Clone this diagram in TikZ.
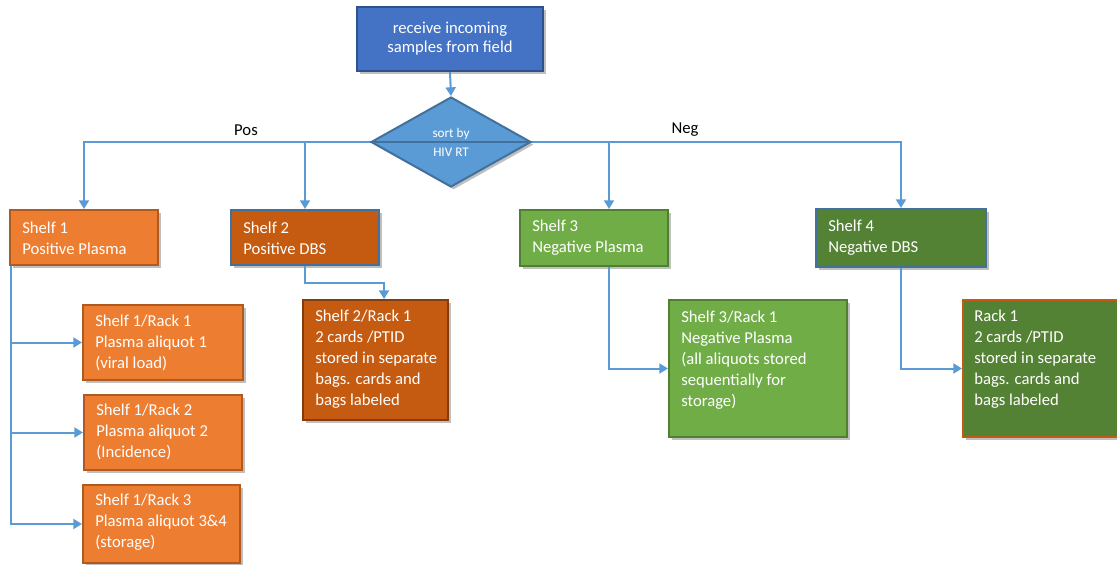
\documentclass[tikz,border=0pt]{standalone}
\usepackage{fontspec}
\setmainfont{Carlito}
\usetikzlibrary{shapes.geometric,shadows,arrows.meta}
\definecolor{topfill}{HTML}{4472C4}
\definecolor{topdraw}{HTML}{2F528F}
\definecolor{dfill}{HTML}{5B9BD5}
\definecolor{ddraw}{HTML}{41719C}
\definecolor{cblue}{HTML}{5B9BD5}
\definecolor{orfill}{HTML}{ED7D31}
\definecolor{ordraw}{HTML}{AE5A21}
\definecolor{brfill}{HTML}{C55A11}
\definecolor{brdraw}{HTML}{843C0C}
\definecolor{lgfill}{HTML}{70AD47}
\definecolor{lgdraw}{HTML}{507E32}
\definecolor{dgfill}{HTML}{548235}
\begin{document}
\begin{tikzpicture}[x=0.75pt,y=-0.75pt,
  box/.style={draw, line width=1.5pt, inner sep=0pt, rectangle,
    drop shadow={shadow xshift=2pt, shadow yshift=-2pt, opacity=0.25, fill=black}},
  txt/.style={text=white, align=left, anchor=west, inner sep=0pt,
    font=\fontsize{12.5}{15.75}\selectfont},
  lbl/.style={text=black, inner sep=0pt, font=\fontsize{12.5}{15}\selectfont},
  conn/.style={draw=cblue, line width=1.5pt, -{Triangle[width=7.5pt,length=6.5pt]}}]
\useasboundingbox (0,0) rectangle (1117,564);

% top box
\node[box, fill=topfill, draw=topdraw, minimum width=139.5pt, minimum height=48pt,
  text=white, align=center, font=\fontsize{12.5}{14.25}\selectfont] (top) at (450,39)
  {receive incoming\\samples from field};

% diamond
\node[diamond, draw=ddraw, fill=dfill, line width=1.5pt, aspect=1.78, minimum width=120pt,
  minimum height=67.5pt, inner sep=0pt, text=white, align=center,
  font=\fontsize{9.9}{14.25}\selectfont,
  drop shadow={shadow xshift=2pt, shadow yshift=-2pt, opacity=0.25, fill=black}] (d) at (451,142)
  {sort by\\HIV RT};
\draw[draw=ddraw, line width=1.5pt] (d.west) -- (d.east);

% shelves
\node[box, fill=orfill, draw=ordraw, minimum width=111pt, minimum height=41.25pt] (s1) at (84,237.5) {};
\node[box, fill=brfill, draw=ddraw, minimum width=111pt, minimum height=41.25pt] (s2) at (305,237.5) {};
\node[box, fill=lgfill, draw=lgdraw, minimum width=111pt, minimum height=42pt] (s3) at (594,238) {};
\node[box, fill=dgfill, draw=ddraw, minimum width=127.5pt, minimum height=43.5pt] (s4) at (901,238) {};

\node[txt] (s1t) at (22,238) {Shelf 1\\Positive Plasma};
\node[txt] (s2t) at (243,238) {Shelf 2\\Positive DBS};
\node[txt] (s3t) at (532,238) {Shelf 3\\Negative Plasma};
\node[txt] (s4t) at (828,238) {Shelf 4\\Negative DBS};

% racks
\node[box, fill=orfill, draw=ordraw, minimum width=120pt, minimum height=56.25pt] (r1) at (163,342.5) {};
\node[box, fill=orfill, draw=ordraw, minimum width=118.5pt, minimum height=56.25pt] (r2) at (163,432.5) {};
\node[box, fill=orfill, draw=ordraw, minimum width=117.75pt, minimum height=58.5pt] (r3) at (161.5,524) {};
\node[box, fill=brfill, draw=brdraw, minimum width=108.75pt, minimum height=90pt] (s2r1) at (375.5,360) {};
\node[box, fill=lgfill, draw=lgdraw, minimum width=133.5pt, minimum height=102.75pt] (s3r1) at (758,368.5) {};
\node[box, fill=dgfill, draw=brfill, minimum width=120pt, minimum height=102.75pt] (r4) at (1043,368.5) {};

\node[txt] (r1t) at (95,343) {Shelf 1/Rack 1\\Plasma aliquot 1\\(viral load)};
\node[txt] (r2t) at (96,432) {Shelf 1/Rack 2\\Plasma aliquot 2\\(Incidence)};
\node[txt] (r3t) at (95,522) {Shelf 1/Rack 3\\Plasma aliquot 3\&4\\(storage)};
\node[txt] (s2r1t) at (315,359) {Shelf 2/Rack 1\\2 cards /PTID\\stored in separate\\bags. cards and\\bags labeled};
\node[txt] (s3r1t) at (681,360) {Shelf 3/Rack 1\\Negative Plasma\\(all aliquots stored\\sequentially for\\storage)};
\node[txt] (r4t) at (974,359) {Rack 1\\2 cards /PTID\\stored in separate\\bags. cards and\\bags labeled};

% labels
\node[lbl] (pos) at (246,130) {Pos};
\node[lbl] (neg) at (685,130) {Neg};

% connectors
\draw[conn] (top.south) -- (d.north);
\draw[conn] (d.west) -| (s1.north);
\draw[conn] (d.west) -| (s2.north);
\draw[conn] (d.east) -| ([xshift=11.25pt]s3.north);
\draw[conn] (d.east) -| (s4.north);
\draw[conn] ([xshift=1.5pt]s1.south west) |- (r1.west);
\draw[conn] ([xshift=1.5pt]s1.south west) |- (r2.west);
\draw[conn] ([xshift=1.5pt]s1.south west) |- (r3.west);
\draw[conn] (s2.south) -- ++(0,17) -| ([xshift=6.4pt]s2r1.north);
\draw[conn] ([xshift=11.25pt]s3.south) |- (s3r1.west);
\draw[conn] (s4.south) |- (r4.west);
\end{tikzpicture}
\end{document}
